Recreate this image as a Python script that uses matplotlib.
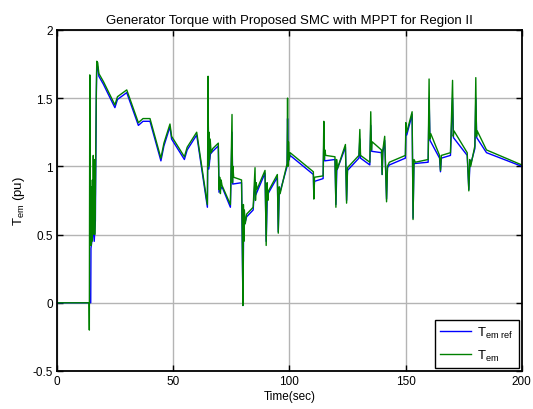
import matplotlib
matplotlib.use("Agg")
import matplotlib.pyplot as plt

# Tem ref (blue) - breakpoints
t_ref = [0, 14.5, 14.6, 15.0, 15.5, 16.0, 16.5, 16.9, 17.1, 17.5, 18, 20, 22, 24.9, 26, 30,
         35, 37, 40, 44.7, 46, 48.6, 49.3, 54.8, 56, 60.1, 64.7, 65.0, 65.3, 66.0, 67, 69.4,
         69.7, 70.3, 71.0, 74.6, 75.3, 75.6, 79.4, 80.0, 80.3, 81.6, 84.4, 85.2, 85.5, 89.5,
         90.0, 90.5, 94.8, 95.2, 95.6, 99.0, 99.2, 99.5, 100.3, 110.3, 110.5, 110.8, 114.5,
         114.8, 115.2, 119.6, 120.0, 120.4, 124.1, 124.6, 125.0, 129.9, 130.3, 130.6, 134.6,
         135.0, 135.4, 139.6, 139.9, 140.2, 141.0, 141.8, 142.2, 143.0, 149.9, 150.1, 150.5,
         152.8, 153.2, 153.6, 159.7, 160.1, 160.5, 164.6, 165.0, 165.4, 169.3, 170.2, 170.6,
         176.5, 177.2, 177.6, 179.8, 180.2, 180.6, 184.8, 200]
v_ref = [0, 0, 0.40, 0.45, 0.55, 0.45, 0.60, 1.50, 1.74, 1.73, 1.66, 1.60, 1.53, 1.43, 1.49, 1.54,
         1.30, 1.33, 1.33, 1.04, 1.15, 1.29, 1.20, 1.05, 1.12, 1.23, 0.70, 1.45, 0.98, 1.09, 1.11, 1.15,
         0.81, 0.83, 0.85, 0.70, 1.25, 0.87, 0.88, -0.02, 0.55, 0.63, 0.68, 0.90, 0.79, 0.95,
         0.45, 0.79, 0.92, 0.52, 0.79, 1.00, 1.35, 1.03, 1.08, 0.94, 0.78, 0.89, 0.91,
         1.20, 1.04, 1.05, 0.72, 0.97, 1.14, 0.75, 0.97, 1.06, 1.20, 1.06, 1.01,
         1.30, 1.11, 1.10, 0.94, 1.10, 1.19, 0.76, 0.99, 1.01, 1.06, 1.25, 1.23,
         1.38, 0.62, 1.02, 1.03, 1.50, 1.19, 1.06, 0.96, 1.06, 1.08, 1.50, 1.21,
         1.08, 0.83, 0.99, 1.13, 1.50, 1.21, 1.10, 1.00]

# Tem (green)
t_em = [0, 13.8, 13.9, 14.1, 14.25, 14.45, 14.6, 14.8, 15.0, 15.2, 15.4, 15.6, 15.8, 16.0, 16.2,
        16.5, 16.9, 17.1, 17.5, 18, 20, 22, 24.9, 26, 30, 35, 37, 40, 44.7, 46, 48.6, 49.3, 54.8,
        56, 60.1, 64.7, 65.0, 65.2, 65.4, 65.6, 65.9, 66.3, 67, 69.4, 69.7, 70.0, 70.3, 70.6,
        71.0, 74.6, 75.3, 75.5, 75.7, 76.0, 79.4, 79.7, 80.0, 80.2, 80.4, 80.6, 81.0, 81.6,
        84.4, 85.2, 85.4, 85.7, 86.0, 89.5, 90.0, 90.4, 90.7, 91.0, 94.8, 95.2, 95.6, 96.0,
        99.0, 99.2, 99.4, 99.6, 99.9, 100.3, 110.3, 110.5, 110.8, 114.5, 114.8, 115.0, 115.3,
        115.6, 119.6, 120.0, 120.3, 120.6, 124.1, 124.6, 125.0, 129.9, 130.3, 130.6, 134.6,
        135.0, 135.3, 135.6, 139.6, 139.9, 140.2, 141.0, 141.8, 142.2, 143.0, 149.9, 150.1,
        150.5, 152.8, 153.2, 153.6, 154.2, 159.7, 160.1, 160.4, 160.8, 164.6, 165.0, 165.4,
        169.3, 170.2, 170.5, 170.8, 176.5, 177.2, 177.6, 178.0, 179.8, 180.2, 180.5, 180.8,
        184.8, 200]
v_em = [0, 0, -0.20, 1.67, 0.45, 0.75, 0.42, 0.85, 0.45, 0.90, 0.50, 1.08, 0.55, 1.05, 0.50,
        0.80, 1.55, 1.77, 1.76, 1.68, 1.62, 1.55, 1.45, 1.51, 1.56, 1.32, 1.35, 1.35, 1.06, 1.17, 1.31, 1.22, 1.07,
        1.14, 1.25, 0.72, 1.66, 1.00, 1.25, 1.05, 1.20, 1.10, 1.13, 1.17, 0.83, 0.92, 0.80, 0.90,
        0.86, 0.72, 1.38, 0.88, 1.00, 0.92, 0.90, 0.50, -0.02, 0.72, 0.45, 0.68, 0.58, 0.65,
        0.70, 0.99, 0.75, 0.88, 0.83, 0.97, 0.42, 0.88, 0.75, 0.82, 0.94, 0.51, 0.85, 0.80,
        1.02, 1.50, 1.00, 1.18, 1.05, 1.10, 0.96, 0.76, 0.92, 0.93, 1.33, 1.05, 1.12,
        1.08, 1.07, 0.70, 1.05, 0.98, 1.16, 0.73, 0.99, 1.08, 1.27, 1.08, 1.03,
        1.40, 1.12, 1.18, 1.12, 0.94, 1.12, 1.22, 0.74, 1.00, 1.03, 1.08, 1.32,
        1.25, 1.40, 0.61, 1.05, 1.03, 1.05, 1.64, 1.20, 1.24, 1.08, 0.97, 1.08,
        1.10, 1.63, 1.22, 1.26, 1.10, 0.82, 1.05, 1.00, 1.15, 1.65, 1.22, 1.26,
        1.12, 1.01]

x_ticks = [0, 50, 100, 150, 200]
y_ticks = [-0.5, 0, 0.5, 1, 1.5, 2]

plt.rcParams.update({
    "font.family": ["Liberation Sans", "DejaVu Sans"],
    "font.size": 8.5,
    "mathtext.fontset": "custom",
    "mathtext.rm": "Liberation Sans",
    "mathtext.it": "Liberation Sans:italic",
})

fig = plt.figure(figsize=(5.33, 4.10), dpi=100)
ax = fig.add_axes([0.107, 0.0927, 0.872, 0.832])

ax.plot(t_ref, v_ref, color="#0000ff", lw=1.0, label=r"T$_{\mathrm{em\ ref}}$")
ax.plot(t_em, v_em, color="#008000", lw=1.0, label=r"T$_{\mathrm{em}}$")

ax.set_xlim(0, 200)
ax.set_ylim(-0.5, 2)
ax.set_xticks(x_ticks)
ax.set_xticklabels([str(x) for x in x_ticks])
ax.set_yticks(y_ticks)
ax.set_yticklabels(["-0.5", "0", "0.5", "1", "1.5", "2"])
ax.grid(True, color="#b4b4b4", lw=1.0)
ax.set_axisbelow(True)
ax.tick_params(direction="in", top=True, right=True, length=4, width=1.0, pad=3)
for s in ax.spines.values():
    s.set_linewidth(1.3)

ax.set_title("Generator Torque with Proposed SMC with MPPT for Region II",
             fontsize=9.5, pad=5)
ax.set_xlabel("Time(sec)", labelpad=2)
ax.set_ylabel(r"T$_{\mathrm{em}}$ (pu)", fontsize=9.5, labelpad=4)

leg = ax.legend(loc="lower right", fancybox=False, framealpha=1, edgecolor="black",
                borderaxespad=0.2, handlelength=2.3, borderpad=0.4, labelspacing=0.6,
                handletextpad=0.5, fontsize=9.5)
leg.get_frame().set_linewidth(1.0)

fig.savefig("out.png", dpi=100)
